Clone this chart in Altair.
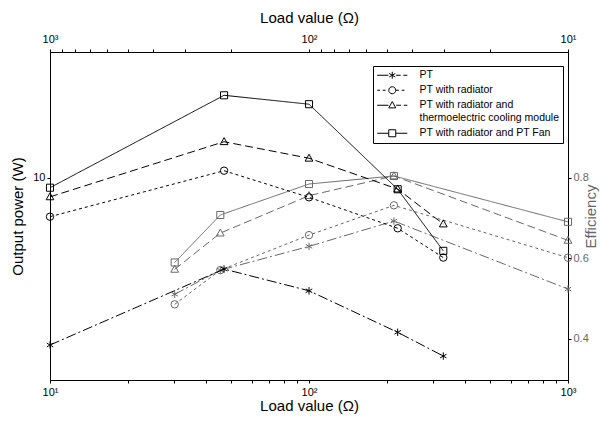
import altair as alt
import pandas as pd

# ---------------- data ----------------
series = [
    "PT",
    "PT with radiator",
    "PT with radiator and thermoelectric cooling module",
    "PT with radiator and PT Fan",
]
load = [10, 47, 100, 220, 330]

power_pt = [4.57, 6.52, 5.89, 4.85, 4.34]
power_rad = [8.33, 10.33, 9.12, 7.89, 6.88]
power_tec = [9.14, 11.83, 10.95, 9.48, 8.05]
power_fan = [9.54, 14.7, 14.1, 9.47, 7.10]

eff_pt = [0.523, 0.692, 0.629, 0.570, 0.510]
eff_rad = [0.601, 0.731, 0.657, 0.570, 0.485]
eff_tec = [0.644, 0.804, 0.755, 0.662, 0.572]
eff_fan = [0.690, 0.804, 0.784, 0.707, 0.589]

x_ticks = [10, 20, 30, 40, 50, 60, 70, 80, 90,
           100, 200, 300, 400, 500, 600, 700, 800, 900, 1000]
power_ticks = [10]
eff_ticks = [0.4, 0.6, 0.8]

# ---------------- tables ----------------
power_vals = [power_pt, power_rad, power_tec, power_fan]
eff_vals = [eff_pt, eff_rad, eff_tec, eff_fan]
rows = []
for name, pv, ev in zip(series, power_vals, eff_vals):
    for l, p, e in zip(load, pv, ev):
        rows.append({"series": name, "load": l, "power": p, "eff": e})
df = pd.DataFrame(rows)

FONT = "Liberation Sans"
GREY = "#686868"

# line styles / markers
dashes = [[10, 3, 2, 3], [3, 3], [8, 4], [1, 0]]
asterisk = "M0,-1L0,1M-0.87,-0.5L0.87,0.5M-0.87,0.5L0.87,-0.5"
tri = "M0,-1.05L1,0.75L-1,0.75Z"
shapes = [asterisk, "circle", tri, "square"]
sizes = [55, 55, 60, 50]

# legend symbols: line + marker drawn as one path
circ = "M1,0A1,1 0 1,1 -1,0A1,1 0 1,1 1,0"
sq = "M-1,-1L1,-1L1,1L-1,1Z"
legend_paths = [
    "M-4.3,0L-1.1,0M1.1,0L2.4,0M3.2,0L4.3,0" + asterisk,
    "M-4.3,0L-3.5,0M-2.7,0L-1.9,0M1.1,0L1.9,0M2.7,0L3.5,0" + circ,
    "M-4.3,0L-1.1,0M1.1,0L2.5,0M3.3,0L4.3,0" + tri,
    "M-4.3,0L-1,0M1,0L4.3,0" + sq,
]

W, H = 518, 328
SUP = "datum.value == 10 ? '10¹' : datum.value == 100 ? '10²' : datum.value == 1000 ? '10³' : ''"

x_bottom = alt.X(
    "load:Q",
    scale=alt.Scale(type="log", domain=[10, 1000], nice=False),
    axis=alt.Axis(
        orient="bottom", values=x_ticks, title="Load value (Ω)", labelExpr=SUP,
        grid=False, tickSize=3, tickColor="black", domainColor="black",
        labelFont=FONT, labelFontSize=11, labelColor="black", labelPadding=3,
        titleFont=FONT, titleFontSize=15, titleFontWeight="normal", titleColor="black",
        titlePadding=1, labelFlush=False, labelOverlap=False,
    ),
)
y_left = alt.Y(
    "power:Q",
    scale=alt.Scale(type="log", domain=[3.88, 18], nice=False),
    axis=alt.Axis(
        orient="left", values=power_ticks, title="Output power (W)", format="d",
        grid=False, tickSize=3, tickColor="black", domainColor="black",
        labelFont=FONT, labelFontSize=11, labelColor="black", labelPadding=2,
        titleFont=FONT, titleFontSize=15, titleFontWeight="normal", titleColor="black",
        titlePadding=7,
    ),
)
x_top = alt.X(
    "load:Q",
    scale=alt.Scale(type="log", domain=[10, 1000], nice=False, reverse=True),
    axis=alt.Axis(
        orient="top", values=x_ticks, title="Load value (Ω)", labelExpr=SUP,
        grid=False, tickSize=3, tickColor="black", domainColor="black",
        labelFont=FONT, labelFontSize=11, labelColor="black", labelPadding=5,
        titleFont=FONT, titleFontSize=15, titleFontWeight="normal", titleColor="black",
        titlePadding=8, labelFlush=False, labelOverlap=False,
    ),
)
y_right = alt.Y(
    "eff:Q",
    scale=alt.Scale(type="linear", domain=[0.297, 1.112], nice=False, zero=False),
    axis=alt.Axis(
        orient="right", values=eff_ticks, title="Efficiency", format=".1f",
        grid=False, tickSize=3, tickColor="black", domainColor="black",
        labelFont=FONT, labelFontSize=11, labelColor=GREY, labelPadding=2,
        titleFont=FONT, titleFontSize=15, titleFontWeight="normal", titleColor=GREY,
        titlePadding=10, titleAngle=270,
    ),
)


def group(x_enc, y_enc, color):
    layers = []
    for name, dash, shp, sz in zip(series, dashes, shapes, sizes):
        base = alt.Chart(df).transform_filter(alt.datum.series == name)
        layers.append(
            base.mark_line(color=color, strokeWidth=1, strokeDash=dash).encode(x=x_enc, y=y_enc)
        )
        layers.append(
            base.mark_point(shape=shp, filled=False, color=color, size=sz,
                            strokeWidth=1, opacity=1).encode(x=x_enc, y=y_enc)
        )
    return layers


legend_expr = (
    "datum.label == 'PT with radiator and thermoelectric cooling module' ? "
    "['PT with radiator and', 'thermoelectric cooling module'] : datum.label"
)
legend_layer = (
    alt.Chart(df)
    .transform_filter("false")
    .mark_point(filled=False, color="black", size=12.25, strokeWidth=1, opacity=1)
    .encode(
        x=x_bottom,
        y=y_left,
        shape=alt.Shape(
            "series:N",
            scale=alt.Scale(domain=series, range=legend_paths),
            legend=alt.Legend(
                orient="none", legendX=323, legendY=14, title=None,
                strokeColor="black", fillColor="white", padding=4,
                labelFont=FONT, labelFontSize=10.5, labelColor="black",
                labelLimit=400, labelExpr=legend_expr,
                symbolOffset=10, labelOffset=22, rowPadding=3,
                symbolStrokeWidth=1, symbolStrokeColor="black",
                symbolFillColor="transparent", symbolSize=49,
                cornerRadius=0,
            ),
        ),
    )
)

power_layer = alt.layer(*group(x_bottom, y_left, "black"), legend_layer)
eff_layer = alt.layer(*group(x_top, y_right, GREY))

chart = (
    alt.layer(eff_layer, power_layer)
    .resolve_scale(x="independent", y="independent")
    .properties(
        width=W, height=H,
        autosize=alt.AutoSizeParams(type="none"),
        padding={"left": 42, "top": 44, "right": 33, "bottom": 35},
        background="white",
    )
    .configure_view(stroke="black", strokeWidth=1)
)

chart.save("out.html", embed_options={"renderer": "svg", "actions": False})
